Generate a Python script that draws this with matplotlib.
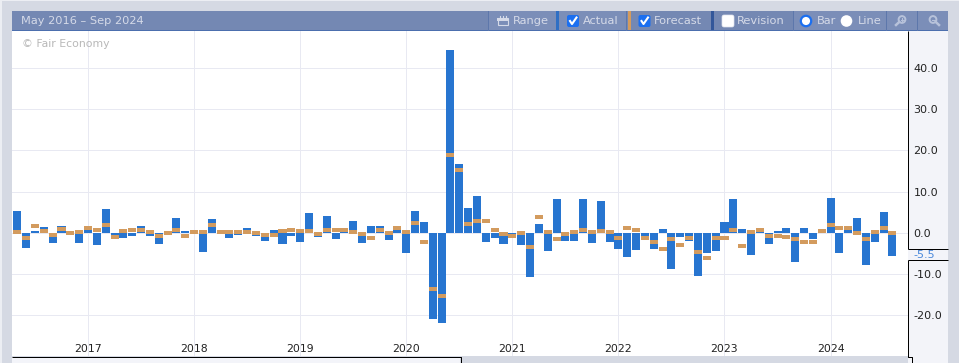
import matplotlib
matplotlib.use('Agg')
import matplotlib.pyplot as plt
import numpy as np
from matplotlib.patches import Rectangle, FancyBboxPatch, Circle

# May 2016 .. Aug 2024, monthly
actual = [5.3, -3.7, 0.4, 1.4, -2.5, 1.6, 0.0, -2.5, 0.6, -3.0,
          5.8, -1.5, -1.3, -0.8, 1.6, -0.8, -2.7, 0.0, 3.6, 0.4,
          0.0, -4.7, 3.3, 0.0, -1.3, -0.5, 1.2, -0.8, -2.0, 0.7,
          -2.7, -0.8, -2.2, 4.8, -1.0, 4.1, -1.5, 0.1, 2.9, -2.5,
          1.6, 1.6, -1.7, 0.7, -4.9, 5.3, 2.6, -20.9, -21.9, 44.3,
          16.7, 6.0, 8.9, -2.2, -1.3, -2.7, -0.5, -3.0, -10.7, 2.1,
          -4.4, 8.2, -2.0, -2.0, 8.2, -2.5, 7.7, -2.2, -3.9, -5.9,
          -4.2, -1.0, -3.9, 0.9, -8.8, -1.0, -2.0, -10.4, -4.8, -4.4,
          2.6, 8.2, 0.9, -5.4, 0.1, -2.7, 0.4, 1.2, -7.1, 1.2,
          -1.6, 0.0, 8.4, -4.9, 0.7, 3.6, -7.8, -2.2, 5.0, -5.6]
forecast = [0.2, -1.3, 1.6, 0.4, -0.5, 0.9, 0.0, 0.2, 1.2, 0.7,
            1.9, -1.0, 0.4, 0.7, 0.7, 0.2, -0.8, 0.0, 0.7, -0.8,
            0.2, 0.2, 1.9, 0.2, 0.2, 0.2, 0.2, 0.0, -0.5, -0.5,
            0.4, 0.7, 0.4, 0.4, -0.3, 0.7, 0.7, 0.7, 0.2, -0.3,
            -1.3, 0.7, 0.0, 1.2, 0.2, 2.4, -2.2, -13.6, -15.3, 18.8,
            15.2, 2.1, 2.9, 2.9, 0.7, -0.3, -0.8, 0.0, -3.4, 3.8,
            0.2, -1.5, -0.3, 0.2, 0.7, 0.2, 0.4, 0.2, -1.3, 1.2,
            0.7, -1.3, -2.2, -3.9, -1.5, -3.0, -1.3, -4.7, -6.1, -1.3,
            -1.3, 0.7, -3.2, 0.2, 0.7, -0.8, -0.8, -1.0, -1.5, -2.2,
            -2.2, 0.4, 1.9, 1.2, 1.2, 0.0, -1.5, 0.2, 1.2, 0.0]
years = [2017, 2018, 2019, 2020, 2021, 2022, 2023, 2024]
year_idx = [8, 20, 32, 44, 56, 68, 80, 92]
yticks = [40, 30, 20, 10, 0, -10, -20]

W, H = 959, 363
BG = '#d5d9e3'
PANEL = '#f3f4f9'
HEAD = '#7488b3'
HTXT = '#d5dae8'
GRID = '#e8e9f2'
BLUE = '#2775d0'
ORANGE = '#d39b5e'

fig = plt.figure(figsize=(W / 100, H / 100), dpi=100, facecolor=BG)

# page furniture in pixel coordinates
bg = fig.add_axes([0, 0, 1, 1], zorder=0)
bg.set_xlim(0, W)
bg.set_ylim(H, 0)
bg.axis('off')


def rect(a, x0, y0, x1, y1, c, z=1):
    a.add_patch(Rectangle((x0, y0), x1 - x0, y1 - y0, fc=c, ec='none', zorder=z))


rect(bg, 0, 0, W, 1, '#eceef3')
rect(bg, 0, 0, 1.5, H, '#eceef3')
rect(bg, 12, 31, 908, 356, 'white')
rect(bg, 908, 31, 948, H, PANEL)
rect(bg, 12, 357, 460, H, PANEL)

# main chart
ax = fig.add_axes([12 / W, 1 - 356 / H, (908 - 12) / W, (356 - 31) / H], zorder=1)
ax.patch.set_alpha(0)
idx = np.arange(len(actual))
ax.set_xlim((12 - 17.3) / 8.84, (908 - 17.3) / 8.84)
ax.set_ylim((232.8 - 356) / 4.125, (232.8 - 31) / 4.125)
ax.bar(idx, actual, width=0.905, color=BLUE, zorder=2)
ax.bar(idx, [0.97] * len(forecast), bottom=np.array(forecast) - 0.485, width=0.905,
       color=ORANGE, zorder=3)
ax.set_xticks(year_idx)
ax.set_xticklabels(years, fontsize=7.8, color='#222222')
ax.set_yticks(yticks)
ax.set_yticklabels(['%.1f' % v for v in yticks], fontsize=8, color='#222222')
ax.yaxis.tick_right()
ax.tick_params(axis='x', length=0, direction='in', pad=-8.5)
ax.tick_params(axis='y', length=0, pad=4)
ax.grid(True, color=GRID, lw=0.72)
ax.set_axisbelow(True)
for s in ax.spines.values():
    s.set_visible(False)
ax.text(22, 44, '\u00a9 Fair Economy', fontsize=7.8, color='#b8b8b8', va='center',
        transform=bg.transData)

# overlay for header and axis frame
top = fig.add_axes([0, 0, 1, 1], zorder=2)
top.set_xlim(0, W)
top.set_ylim(H, 0)
top.axis('off')
top.patch.set_alpha(0)

top.text(913.5, 254.5, '-5.5', fontsize=8, color='#4a88da', va='center')
for xs, ys in [([908, 908], [31, 249]), ([908, 948], [249, 249]), ([908, 948], [260, 260]),
               ([908, 908, 912, 912], [260, 356.5, 356.5, H]),
               ([12, 460.5, 460.5], [356.5, 356.5, H])]:
    top.plot(xs, ys, color='black', lw=0.72, solid_capstyle='butt')

rect(top, 12, 11, 948, 30, HEAD)
rect(top, 12, 30, 948, 31, '#4c6fae', 2)
for x0, x1 in [(488, 556), (559, 626), (793, 886), (886, 917), (917, 948)]:
    rect(top, x0, 11, x1, 30, '#7b8eb8', 2)
for x in [487.5, 626, 793, 886, 917]:
    top.plot([x, x], [11, 30], color='#5d77ab', lw=0.72, zorder=3)
for x0, c in [(556, '#2f6fc4'), (628, ORANGE), (711, '#33579a')]:
    rect(top, x0, 11, x0 + 3, 30, c, 3)

top.text(21, 21, 'May 2016 \u2013 Sep 2024', fontsize=8.2, color=HTXT, va='center')
for x, s in [(512.5, 'Range'), (582.5, 'Actual'), (653.5, 'Forecast'), (736.5, 'Revision'),
             (817, 'Bar'), (858, 'Line')]:
    top.text(x, 21, s, fontsize=8.2, color=HTXT, va='center', zorder=4)

# check boxes
for x0, on in [(567, True), (638.5, True), (722, False)]:
    top.add_patch(FancyBboxPatch((x0 + 1, 16), 10, 10, boxstyle='round,pad=1,rounding_size=2',
                                 fc='#1b6ff0' if on else 'white', ec='#dfe3ee' if not on else 'none',
                                 lw=0.5, zorder=4))
    if on:
        top.plot([x0 + 3, x0 + 5, x0 + 9.5], [21, 24, 17.5], color='white', lw=1.5, zorder=5)

# radio buttons
top.add_patch(Circle((806, 21), 5.2, fc='white', ec='#1b6ff0', lw=1.6, zorder=4))
top.add_patch(Circle((846.5, 21), 5.8, fc='white', ec='none', zorder=4))

# range calendar icon
top.add_patch(Rectangle((497.5, 18), 10, 7, fc='none', ec=HTXT, lw=0.8, zorder=4))
rect(top, 497, 18, 508, 20.5, HTXT, 4)
for x in [499.5, 502.5, 505.5]:
    top.plot([x, x], [15.5, 18], color=HTXT, lw=0.8, zorder=4)

# zoom icons
ICON = '#b7c2da'
for cx, plus in [(902, True), (933, False)]:
    top.add_patch(Circle((cx, 19.5), 3.4, fc='none', ec=ICON, lw=1.4, zorder=4))
    sgn = -1 if plus else 1
    top.plot([cx + sgn * 2.8, cx + sgn * 6], [22, 25], color=ICON, lw=1.8, zorder=4)
    top.plot([cx - 1.5, cx + 1.5], [19.5, 19.5], color=ICON, lw=0.8, zorder=4)
    if plus:
        top.plot([cx, cx], [18, 21], color=ICON, lw=0.8, zorder=4)

fig.savefig('out.png', dpi=100, facecolor=BG)
